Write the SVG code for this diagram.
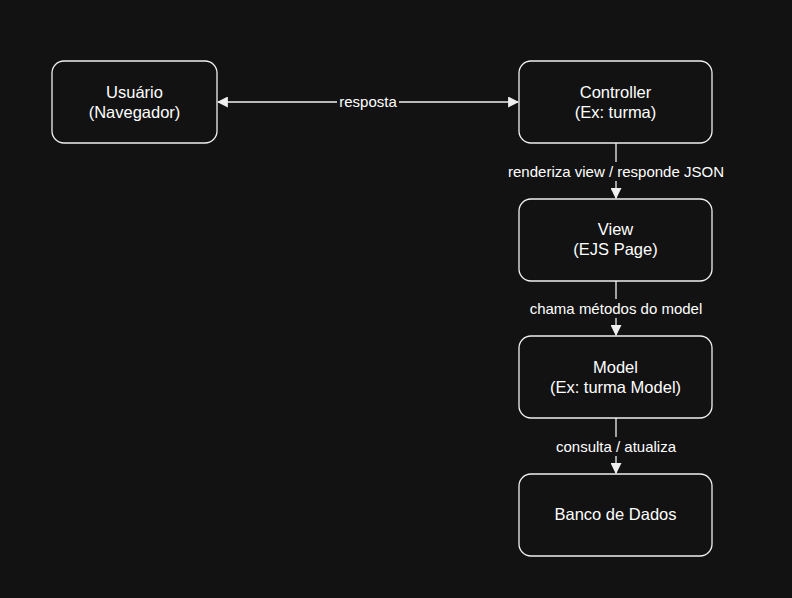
<svg xmlns="http://www.w3.org/2000/svg" width="792" height="598" viewBox="0 0 792 598">
<defs>
<style>
.node rect{fill:#121212;stroke:#f0f0f0;stroke-width:1.3}
.node text{fill:#ffffff;font-family:"Liberation Sans",Arial,sans-serif;font-size:16.5px;text-anchor:middle}
.edge{stroke:#f0f0f0;stroke-width:1.3;fill:none}
.lbl-bg{fill:#121212}
.lbl{fill:#ffffff;font-family:"Liberation Sans",Arial,sans-serif;font-size:15px;text-anchor:middle}
</style>
<marker id="ah" viewBox="0 0 10 10" refX="9" refY="5" markerWidth="11" markerHeight="11" markerUnits="userSpaceOnUse" orient="auto-start-reverse">
<path d="M0,0 L10,5 L0,10 Z" fill="#f0f0f0"/>
</marker>
</defs>
<rect width="792" height="598" fill="#121212"/>
<g id="connectors">
<line class="edge" x1="218" y1="102" x2="518" y2="102" marker-start="url(#ah)" marker-end="url(#ah)"/>
<rect class="lbl-bg" x="337" y="93" width="62" height="18"/>
<text class="lbl" x="368" y="107">resposta</text>
<line class="edge" x1="616" y1="143" x2="616" y2="198" marker-end="url(#ah)"/>
<rect class="lbl-bg" x="505" y="162" width="222" height="19"/>
<text class="lbl" x="616" y="177">renderiza view / responde JSON</text>
<line class="edge" x1="616" y1="281" x2="616" y2="335" marker-end="url(#ah)"/>
<rect class="lbl-bg" x="526" y="299" width="180" height="19"/>
<text class="lbl" x="616" y="314">chama métodos do model</text>
<line class="edge" x1="616" y1="418" x2="616" y2="473" marker-end="url(#ah)"/>
<rect class="lbl-bg" x="553" y="437" width="126" height="19"/>
<text class="lbl" x="616" y="452">consulta / atualiza</text>
</g>
<g id="usuario" class="node">
<rect x="52" y="61" width="165" height="82" rx="12"/>
<text x="134.5" y="98">Usuário</text>
<text x="134.5" y="118">(Navegador)</text>
</g>
<g id="controller" class="node">
<rect x="519" y="61" width="193" height="82" rx="12"/>
<text x="615.5" y="98">Controller</text>
<text x="615.5" y="118">(Ex: turma)</text>
</g>
<g id="view" class="node">
<rect x="519" y="199" width="193" height="82" rx="12"/>
<text x="615.5" y="235">View</text>
<text x="615.5" y="255">(EJS Page)</text>
</g>
<g id="model" class="node">
<rect x="519" y="336" width="193" height="82" rx="12"/>
<text x="615.5" y="373">Model</text>
<text x="615.5" y="393">(Ex: turma Model)</text>
</g>
<g id="banco" class="node">
<rect x="519" y="474" width="193" height="82" rx="12"/>
<text x="615.5" y="520">Banco de Dados</text>
</g>
</svg>
